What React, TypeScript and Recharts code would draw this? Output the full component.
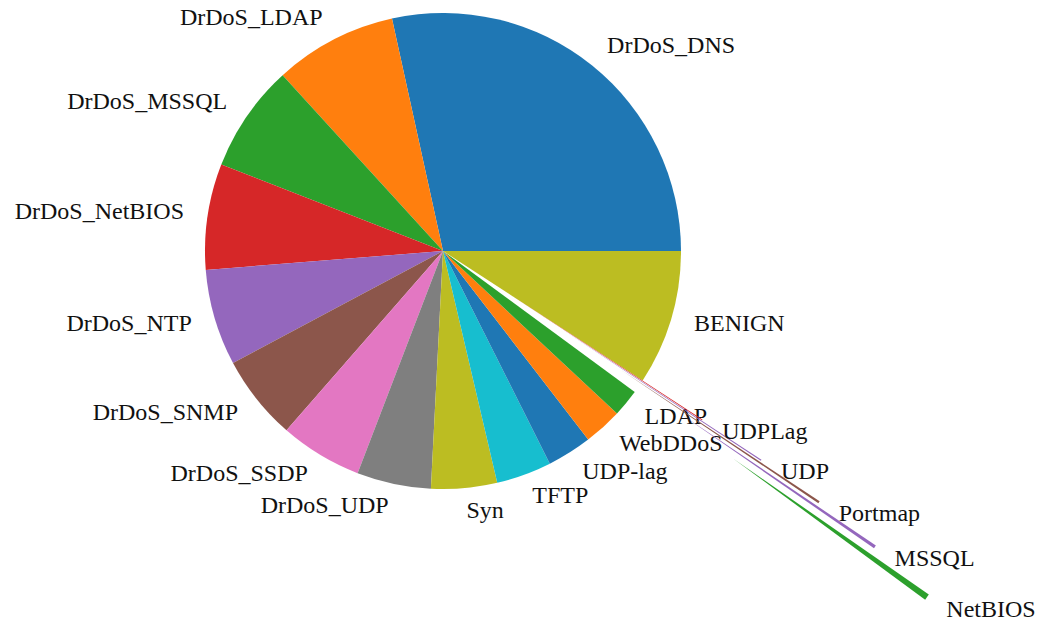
import React from 'react';
import { PieChart, Pie, Cell, Sector } from 'recharts';

const labels = [
  'DrDoS_DNS', 'DrDoS_LDAP', 'DrDoS_MSSQL', 'DrDoS_NetBIOS', 'DrDoS_NTP',
  'DrDoS_SNMP', 'DrDoS_SSDP', 'DrDoS_UDP', 'Syn', 'TFTP', 'UDP-lag',
  'WebDDoS', 'LDAP', 'NetBIOS', 'MSSQL', 'Portmap', 'UDP', 'UDPLag', 'BENIGN',
];
const shares = [
  28.44, 8.33, 7.31, 7.19, 6.53, 5.78, 5.58, 5.03, 4.47, 3.75, 3.03,
  2.61, 1.86, 0.42, 0.22, 0.15, 0.08, 0.06, 9.16,
];
const explode = [
  0, 0, 0, 0, 0, 0, 0, 0, 0, 0, 0,
  0, 0, 1.5, 1.2, 0.9, 0.6, 0.3, 0,
];
const colors = [
  '#1f77b4', '#ff7f0e', '#2ca02c', '#d62728', '#9467bd', '#8c564b', '#e377c2',
  '#7f7f7f', '#bcbd22', '#17becf', '#1f77b4', '#ff7f0e', '#2ca02c',
  '#2ca02c', '#9467bd', '#8c564b', '#9467bd', '#d62728', '#bcbd22',
];

const data = labels.map((name, i) => ({ name, value: shares[i] }));

const RAD = Math.PI / 180;

const renderLabel = (props: any) => {
  const { cx, cy, outerRadius, startAngle, endAngle, index } = props;
  const mid = (startAngle + endAngle) / 2;
  const e = explode[index];
  const ox = cx + e * outerRadius * Math.cos(mid * RAD);
  const oy = cy - e * outerRadius * Math.sin(mid * RAD);
  const lx = ox + 1.1 * outerRadius * Math.cos(mid * RAD);
  const ly = oy - 1.1 * outerRadius * Math.sin(mid * RAD);
  return (
    <g key={`lbl-${index}`}>
      {e > 0 && (
        <Sector
          cx={ox}
          cy={oy}
          innerRadius={0}
          outerRadius={outerRadius}
          startAngle={startAngle}
          endAngle={endAngle}
          fill={colors[index]}
          stroke="none"
        />
      )}
      <text
        x={lx}
        y={ly}
        dy={-2}
        textAnchor={lx > cx ? 'start' : 'end'}
        dominantBaseline="central"
        fontFamily="'Liberation Serif', 'Times New Roman', serif"
        fontSize={24}
        fill="#111"
      >
        {labels[index]}
      </text>
    </g>
  );
};

export default function App() {
  return (
    <div style={{ position: 'absolute', left: 0, top: 0, width: 1042, height: 623, background: '#fff' }}>
      <PieChart width={1042} height={623} margin={{ top: 0, right: 0, bottom: 0, left: 0 }}>
        <Pie
          data={data}
          dataKey="value"
          nameKey="name"
          cx={443}
          cy={251}
          innerRadius={0}
          outerRadius={238}
          startAngle={0}
          endAngle={360}
          stroke="none"
          isAnimationActive={false}
          label={renderLabel}
          labelLine={false}
        >
          {data.map((d, i) => (
            <Cell key={d.name} fill={explode[i] > 0 ? 'transparent' : colors[i]} stroke="none" />
          ))}
        </Pie>
      </PieChart>
    </div>
  );
}
